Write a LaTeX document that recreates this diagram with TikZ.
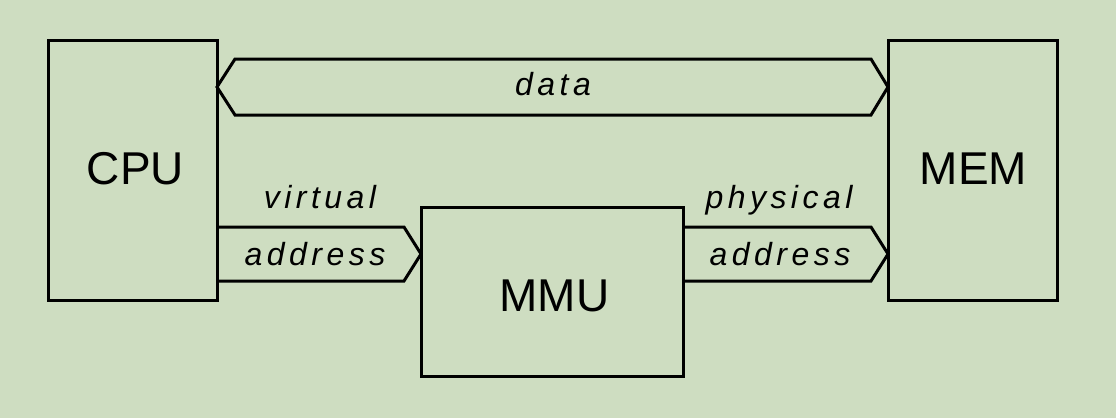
\documentclass[tikz,border=0pt]{standalone}
\usepackage{fontspec}
\setmainfont{Liberation Sans}
\newfontfamily\busfont{Liberation Sans}[LetterSpace=14]
\definecolor{bgc}{RGB}{206,221,193}
\tikzset{
  box/.style={draw=black, line width=3pt, inner sep=0pt, outer sep=0pt},
  boxtext/.style={anchor=base, inner sep=0pt, font=\fontsize{46}{46}\selectfont},
  bustext/.style={anchor=base, inner sep=0pt, font=\busfont\itshape\fontsize{32}{32}\selectfont},
  bus/.style={draw=black, line width=3pt, line join=miter}
}
\begin{document}
\begin{tikzpicture}[x=1pt,y=-1pt]
\fill[bgc] (0,0) rectangle (1116,418);
% boxes
\node[box, minimum width=169pt, minimum height=260pt] (cpu) at (132.5,170) {};
\node[box, minimum width=169pt, minimum height=260pt] (mem) at (972.5,170) {};
\node[box, minimum width=262pt, minimum height=169pt] (mmu) at (552,291.5) {};
\node[boxtext] (cputxt) at (135.5,184) {CPU};
\node[boxtext] (memtxt) at (973.5,184) {MEM};
\node[boxtext] (mmutxt) at (554.5,311) {MMU};
% data bus
\draw[bus] (cpu.east |- 0,87) -- (235,59) -- (871,59) -- (mem.west |- 0,87) -- (871,115) -- (235,115) -- cycle;
% virtual address bus
\draw[bus] (cpu.east |- 0,227) -- (404,227) -- (mmu.west |- 0,254) -- (404,281) -- (cpu.east |- 0,281);
% physical address bus
\draw[bus] (mmu.east |- 0,227) -- (871,227) -- (mem.west |- 0,254) -- (871,281) -- (mmu.east |- 0,281);
% labels
\node[bustext] (datatxt) at (553,95) {data};
\node[bustext] (virttxt) at (320,208) {virtual};
\node[bustext] (vaddrtxt) at (315,265) {address};
\node[bustext] (phystxt) at (779,208) {physical};
\node[bustext] (paddrtxt) at (780,265) {address};
\end{tikzpicture}
\end{document}
